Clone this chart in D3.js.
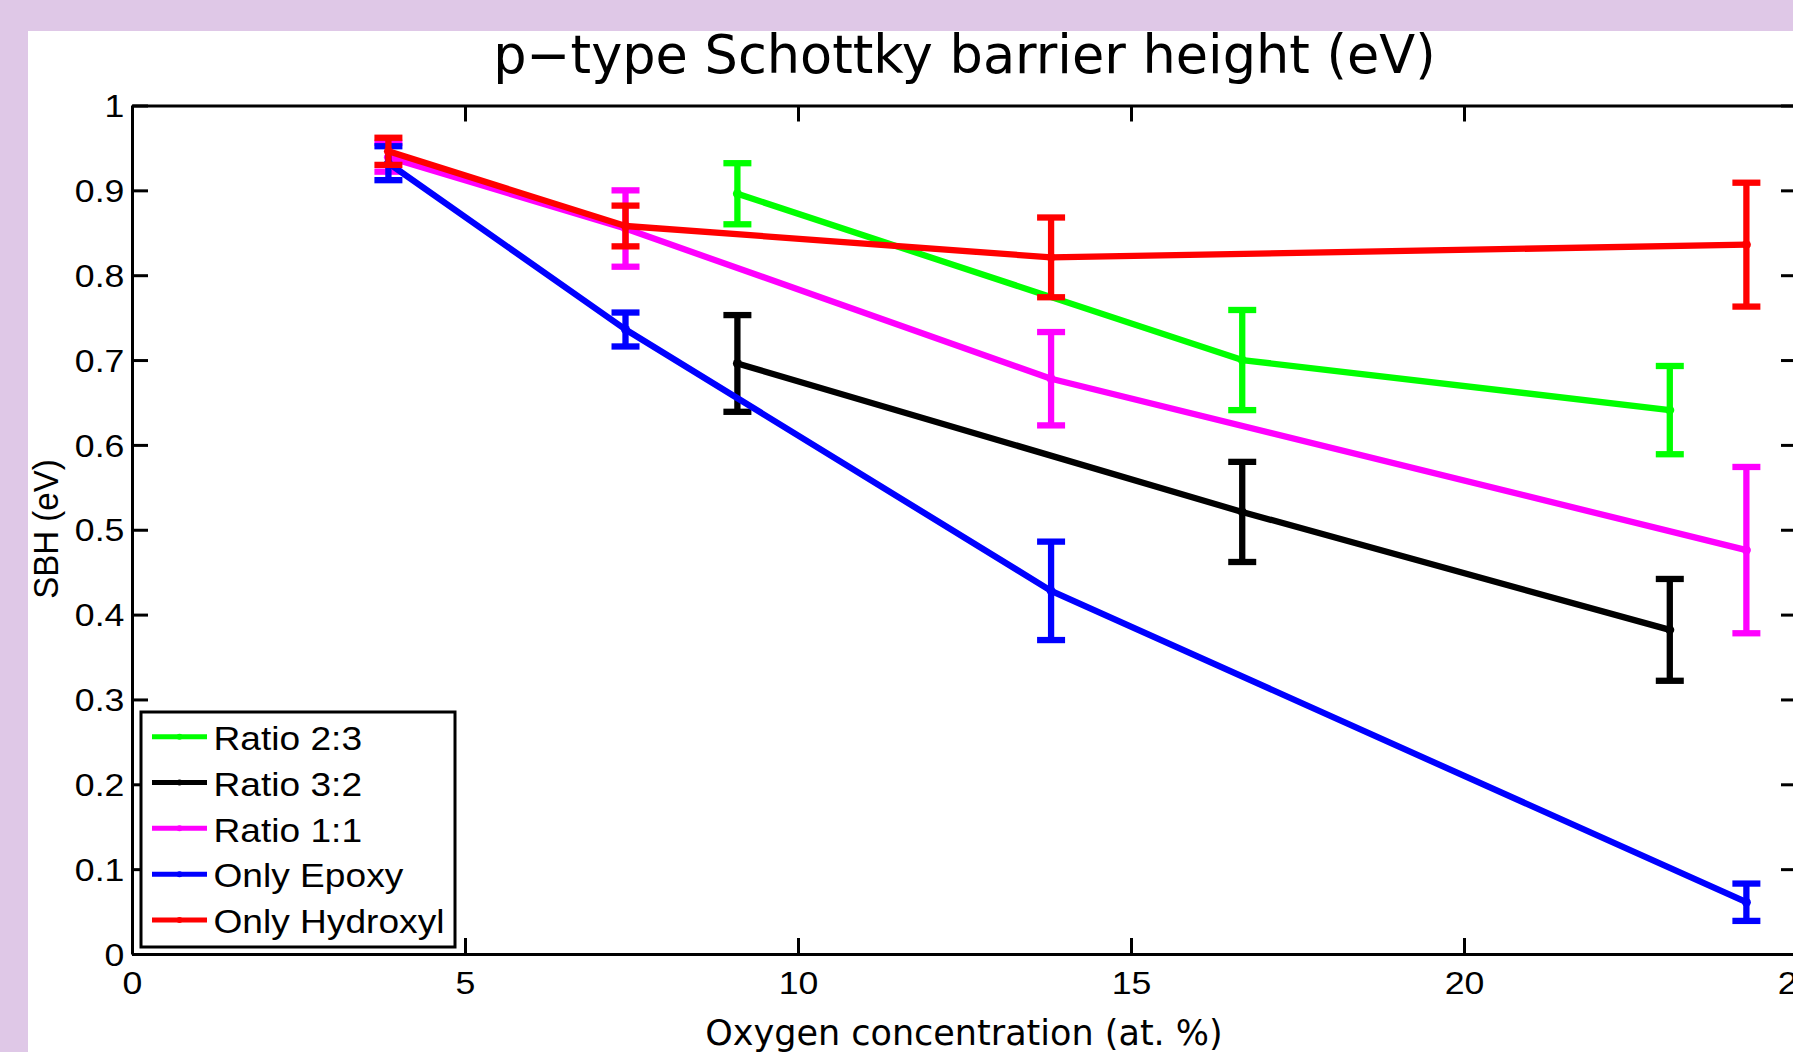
<!DOCTYPE html>
<html>
<head>
<meta charset="utf-8">
<script src="https://cdn.jsdelivr.net/npm/d3@7"></script>
<style>
  html, body { margin: 0; padding: 0; background: #ffffff; overflow: hidden; }
  svg { display: block; }
</style>
</head>
<body>
<svg id="chart" width="1793" height="1052"></svg>
<script>
// ---- data -------------------------------------------------------------
const seriesNames  = ["Ratio 2:3", "Ratio 3:2", "Ratio 1:1", "Only Epoxy", "Only Hydroxyl"];
const seriesColors = ["#00ff00", "#000000", "#ff00ff", "#0000ff", "#ff0000"];

// oxygen concentration (at. %) of each sample
const ratio23X   = [9.09, 16.67, 23.09];
const ratio32X   = [9.09, 16.67, 23.09];
const ratio11X   = [3.85, 7.41, 13.80, 24.24];
const epoxyX     = [3.85, 7.41, 13.80, 24.24];
const hydroxylX  = [3.85, 7.41, 13.80, 24.24];

// mean SBH (eV)
const ratio23Y   = [0.896, 0.700, 0.641];
const ratio32Y   = [0.696, 0.521, 0.382];
const ratio11Y   = [0.939, 0.855, 0.678, 0.476];
const epoxyY     = [0.932, 0.736, 0.428, 0.061];
const hydroxylY  = [0.946, 0.858, 0.821, 0.836];

// error bar half-heights (eV)
const ratio23Err  = [0.036, 0.059, 0.052];
const ratio32Err  = [0.057, 0.059, 0.060];
const ratio11Err  = [0.017, 0.045, 0.055, 0.098];
const epoxyErr    = [0.020, 0.020, 0.058, 0.022];
const hydroxylErr = [0.016, 0.024, 0.047, 0.073];

// axis ticks
const xTickValues = [0, 5, 10, 15, 20, 25];
const xTickLabels = ["0", "5", "10", "15", "20", "25"];
const yTickValues = [0, 0.1, 0.2, 0.3, 0.4, 0.5, 0.6, 0.7, 0.8, 0.9, 1];
const yTickLabels = ["0", "0.1", "0.2", "0.3", "0.4", "0.5", "0.6", "0.7", "0.8", "0.9", "1"];

const titleText  = "p\u2212type Schottky barrier height (eV)";
const xLabelText = "Oxygen concentration (at. %)";
const yLabelText = "SBH (eV)";

// ---- layout -------------------------------------------------------------
const W = 1793, H = 1052;
const plot = { left: 132, right: 1797, top: 105.5, bottom: 954 };
const SX = 1.15;            // horizontal stretch of the Helvetica-style labels
const frameColor = "#dfc8e7";

const series = seriesNames.map((name, i) => ({
  name,
  color: seriesColors[i],
  xs: [ratio23X, ratio32X, ratio11X, epoxyX, hydroxylX][i],
  ys: [ratio23Y, ratio32Y, ratio11Y, epoxyY, hydroxylY][i],
  errs: [ratio23Err, ratio32Err, ratio11Err, epoxyErr, hydroxylErr][i]
})).map(s => ({ ...s, points: s.xs.map((x, j) => ({ x, y: s.ys[j], e: s.errs[j] })) }));

const svg = d3.select("#chart");
svg.append("rect").attr("width", W).attr("height", H).attr("fill", "#ffffff");

const x = d3.scaleLinear().domain([0, 25]).range([plot.left, plot.right]);
const y = d3.scaleLinear().domain([0, 1]).range([plot.bottom, plot.top]);

const tickFont = "'Liberation Sans', Arial, Helvetica, sans-serif";

// ---- axes (boxed, ticks pointing inward) ----------------------------------
function styleAxis(g) {
  g.select(".domain").attr("stroke", "#000").attr("stroke-width", 3);
  g.selectAll(".tick line").attr("stroke", "#000").attr("stroke-width", 3);
}

const gBottom = svg.append("g")
  .attr("transform", `translate(0,${plot.bottom})`)
  .call(d3.axisBottom(x).tickValues(xTickValues)
    .tickFormat((d, i) => xTickLabels[i])
    .tickSizeInner(-16).tickSizeOuter(0).tickPadding(18));
styleAxis(gBottom);
gBottom.selectAll(".tick text")
  .attr("font-family", tickFont).attr("font-size", 31).attr("fill", "#000")
  .attr("transform", `scale(${SX},1)`);

const gLeft = svg.append("g")
  .attr("transform", `translate(${plot.left},0)`)
  .call(d3.axisLeft(y).tickValues(yTickValues)
    .tickFormat((d, i) => yTickLabels[i])
    .tickSizeInner(-16).tickSizeOuter(0).tickPadding(6.6));
styleAxis(gLeft);
gLeft.selectAll(".tick text")
  .attr("font-family", tickFont).attr("font-size", 31).attr("fill", "#000")
  .attr("dy", "0.36em")
  .attr("transform", `scale(${SX},1)`);

const gTop = svg.append("g")
  .attr("transform", `translate(0,${plot.top})`)
  .call(d3.axisTop(x).tickValues(xTickValues).tickFormat("")
    .tickSizeInner(-16).tickSizeOuter(0));
styleAxis(gTop);

const gRight = svg.append("g")
  .attr("transform", `translate(${plot.right},0)`)
  .call(d3.axisRight(y).tickValues(yTickValues).tickFormat("")
    .tickSizeInner(-16).tickSizeOuter(0));
styleAxis(gRight);

// ---- series: lines, error bars, point markers -----------------------------
const line = d3.line().x(d => x(d.x)).y(d => y(d.y));
const capHalf = 14;

series.forEach(s => {
  const g = svg.append("g").attr("class", "series");
  g.append("path")
    .datum(s.points)
    .attr("d", line)
    .attr("fill", "none")
    .attr("stroke", s.color)
    .attr("stroke-width", 6.3)
    .attr("stroke-linejoin", "round");

  const bars = g.selectAll(".err").data(s.points).join("g").attr("class", "err")
    .attr("stroke", s.color).attr("stroke-width", 6.3);
  bars.append("line")
    .attr("x1", d => x(d.x)).attr("x2", d => x(d.x))
    .attr("y1", d => y(d.y + d.e)).attr("y2", d => y(d.y - d.e));
  bars.append("line")
    .attr("x1", d => x(d.x) - capHalf).attr("x2", d => x(d.x) + capHalf)
    .attr("y1", d => y(d.y + d.e)).attr("y2", d => y(d.y + d.e));
  bars.append("line")
    .attr("x1", d => x(d.x) - capHalf).attr("x2", d => x(d.x) + capHalf)
    .attr("y1", d => y(d.y - d.e)).attr("y2", d => y(d.y - d.e));

  g.selectAll(".dot").data(s.points).join("circle").attr("class", "dot")
    .attr("cx", d => x(d.x)).attr("cy", d => y(d.y)).attr("r", 4.5)
    .attr("fill", s.color);
});

// ---- legend ---------------------------------------------------------------
const legend = svg.append("g").attr("class", "legend");
legend.append("rect")
  .attr("x", 141).attr("y", 712).attr("width", 314).attr("height", 235)
  .attr("fill", "#ffffff").attr("stroke", "#000").attr("stroke-width", 3);

const rowY = d3.scaleLinear().domain([0, seriesNames.length - 1]).range([736.7, 920]);
const rows = legend.selectAll(".row").data(series).join("g").attr("class", "row")
  .attr("transform", (d, i) => `translate(0,${rowY(i)})`);
rows.append("line")
  .attr("x1", 152).attr("x2", 207).attr("y1", 0).attr("y2", 0)
  .attr("stroke", d => d.color).attr("stroke-width", 5);
rows.append("circle").attr("cx", 179.5).attr("cy", 0).attr("r", 3).attr("fill", d => d.color);
rows.append("g").attr("transform", `translate(213.5,13.3) scale(1.125,1)`)
  .append("text")
  .attr("font-family", tickFont).attr("font-size", 33).attr("fill", "#000")
  .text(d => d.name);

// ---- titles ---------------------------------------------------------------
svg.append("text")
  .attr("x", (plot.left + plot.right) / 2).attr("y", 72.7)
  .attr("text-anchor", "middle")
  .attr("font-family", "'DejaVu Sans', sans-serif").attr("font-size", 52.5)
  .attr("fill", "#000")
  .text(titleText);

svg.append("text")
  .attr("x", 964).attr("y", 1045)
  .attr("text-anchor", "middle")
  .attr("font-family", "'DejaVu Sans', sans-serif").attr("font-size", 35)
  .attr("fill", "#000")
  .text(xLabelText);

svg.append("g").attr("transform", `translate(57.5,529) scale(1.06,1) rotate(-90)`)
  .append("text")
  .attr("text-anchor", "middle")
  .attr("font-family", tickFont).attr("font-size", 33).attr("fill", "#000")
  .text(yLabelText);

// ---- surrounding frame ----------------------------------------------------
svg.append("rect").attr("x", 0).attr("y", 0).attr("width", W).attr("height", 31).attr("fill", frameColor);
svg.append("rect").attr("x", 0).attr("y", 0).attr("width", 28).attr("height", H).attr("fill", frameColor);
</script>
</body>
</html>
